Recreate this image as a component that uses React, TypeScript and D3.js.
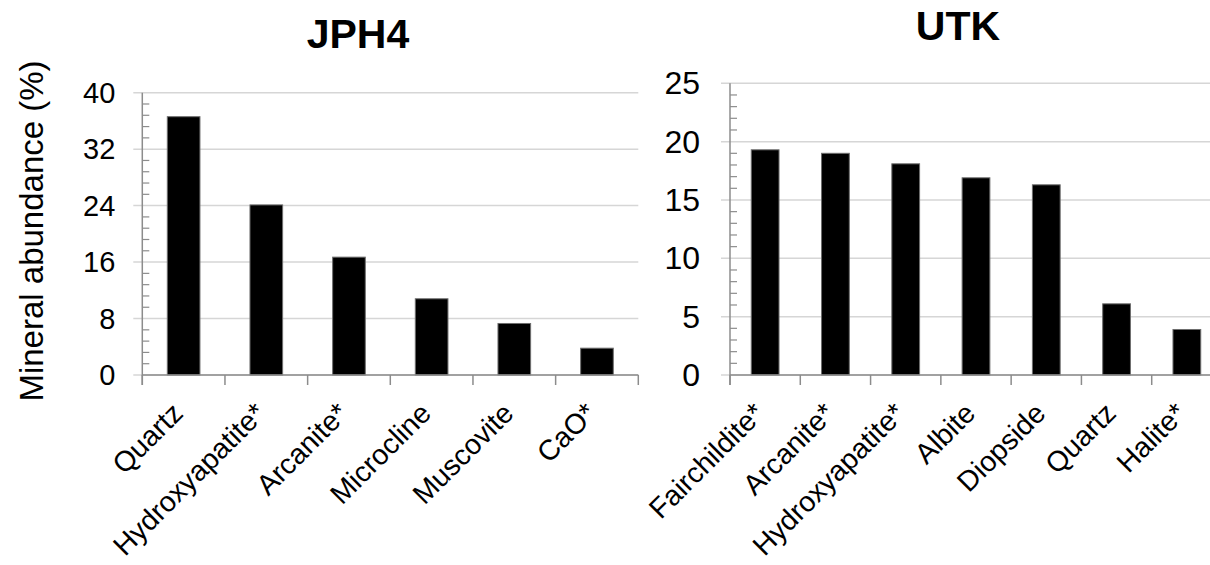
import * as d3 from 'd3';

const FONT = '"Liberation Sans", Arial, sans-serif';

// JPH4 panel
const jphMinerals = ['Quartz', 'Hydroxyapatite*', 'Arcanite*', 'Microcline', 'Muscovite', 'CaO*'];
const jphValues = [36.6, 24.1, 16.7, 10.8, 7.3, 3.8];
const jphTicks = [0, 8, 16, 24, 32, 40];

// UTK panel
const utkMinerals = ['Fairchildite*', 'Arcanite*', 'Hydroxyapatite*', 'Albite', 'Diopside', 'Quartz', 'Halite*'];
const utkValues = [19.3, 19.0, 18.1, 16.9, 16.3, 6.1, 3.9];
const utkTicks = [0, 5, 10, 15, 20, 25];

type PanelProps = {
  title: string;
  titleX: number;
  titleY: number;
  minerals: string[];
  values: number[];
  ticks: number[];
  minorStep: number;
  x0: number;
  x1: number;
  yTop: number;
  tickFont: number;
  labelGap: number;
};

function Panel({ title, titleX, titleY, minerals, values, ticks, minorStep, x0, x1, yTop, tickFont, labelGap }: PanelProps) {
  const top = ticks[ticks.length - 1];
  const y = d3.scaleLinear().domain([0, top]).range([375, yTop]);
  // bars take ~40% of each category slot, centred in it
  const x = d3.scaleBand<string>().domain(minerals).range([x0, x1]).paddingInner(0.605).paddingOuter(0.3025);
  const step = x.step();
  const bounds = d3.range(minerals.length + 1).map((i) => x0 + i * step);
  const minor = d3.range(0, top, minorStep).filter((v) => !ticks.some((t) => Math.abs(t - v) < 1e-6));

  return (
    <g>
      <text x={titleX} y={titleY} textAnchor="middle" fontSize={41} fontWeight="bold" fontFamily={FONT} fill="#000">
        {title}
      </text>

      {ticks.map((t) => (
        <line key={`g${t}`} x1={x0 - 9} x2={x1} y1={y(t)} y2={y(t)} stroke="#d6d6d6" strokeWidth={1.5} />
      ))}

      {minor.map((v) => (
        <line key={`m${v}`} x1={x0} x2={x0 + 7} y1={y(v)} y2={y(v)} stroke="#8c8c8c" strokeWidth={1.2} />
      ))}

      {ticks.map((t) => (
        <text
          key={`l${t}`}
          x={x0 - labelGap}
          y={y(t)}
          textAnchor="end"
          dominantBaseline="central"
          fontSize={tickFont}
          fontFamily={FONT}
          fill="#000"
        >
          {t}
        </text>
      ))}

      {minerals.map((m, i) => (
        <rect
          key={m}
          x={x(m)}
          y={y(values[i])}
          width={x.bandwidth()}
          height={y(0) - y(values[i])}
          fill="#000"
          stroke="#6e6e6e"
          strokeWidth={1}
        />
      ))}

      <line x1={x0} x2={x0} y1={y(top)} y2={y(0) + 10} stroke="#8c8c8c" strokeWidth={1.5} />
      <line x1={x0} x2={x1} y1={y(0)} y2={y(0)} stroke="#8c8c8c" strokeWidth={1.5} />
      {bounds.map((b, i) => (
        <line key={`b${i}`} x1={b} x2={b} y1={y(0)} y2={y(0) + 10} stroke="#8c8c8c" strokeWidth={1.5} />
      ))}

      {minerals.map((m) => {
        const cx = (x(m) ?? 0) + x.bandwidth() / 2;
        return (
          <text
            key={`x${m}`}
            transform={`translate(${cx + 1},${y(0) + 40}) rotate(-45)`}
            textAnchor="end"
            fontSize={28.5}
            fontFamily={FONT}
            fill="#000"
          >
            {m}
          </text>
        );
      })}
    </g>
  );
}

export default function App() {
  return (
    <svg
      width={1210}
      height={565}
      viewBox="0 0 1210 565"
      style={{ position: 'absolute', left: 0, top: 0, background: '#fff' }}
    >
      <rect width={1210} height={565} fill="#fff" />
      <text
        transform="translate(43,231) rotate(-90)"
        textAnchor="middle"
        fontSize={33}
        fontFamily={FONT}
        fill="#000"
      >
        Mineral abundance (%)
      </text>
      <Panel
        title="JPH4"
        titleX={358}
        titleY={48}
        minerals={jphMinerals}
        values={jphValues}
        ticks={jphTicks}
        minorStep={1.6}
        x0={142.3}
        x1={638.3}
        yTop={92.7}
        tickFont={29}
        labelGap={27}
      />
      <Panel
        title="UTK"
        titleX={958}
        titleY={40}
        minerals={utkMinerals}
        values={utkValues}
        ticks={utkTicks}
        minorStep={1}
        x0={730}
        x1={1222}
        yTop={83.3}
        tickFont={32}
        labelGap={30}
      />
    </svg>
  );
}
